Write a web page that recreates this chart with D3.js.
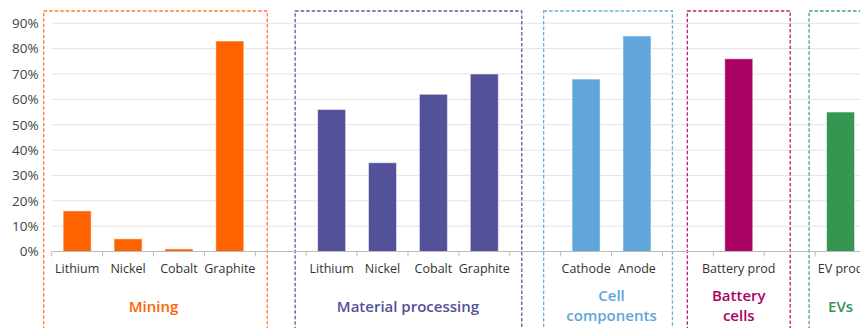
<!DOCTYPE html>
<html>
<head>
<meta charset="utf-8">
<script src="https://cdn.jsdelivr.net/npm/d3@7"></script>
<style>
  body { margin: 0; background: #fff; }
  svg { display: block; font-family: "Open Sans", "Noto Sans", sans-serif; }
</style>
</head>
<body>
<div id="chart"></div>
<script>
// Share of supply chain stage - bar chart with grouped stage boxes

// Data
var categories = ["Lithium", "Nickel", "Cobalt", "Graphite", "",
                  "Lithium", "Nickel", "Cobalt", "Graphite", "",
                  "Cathode", "Anode", "", "Battery prod", "", "EV prod"];
var values = [16, 5, 1, 83, null, 56, 35, 62, 70, null, 68, 85, null, 76, null, 55];
var stageOf = [0, 0, 0, 0, null, 1, 1, 1, 1, null, 2, 2, null, 3, null, 4];
var stageNames = [["Mining"], ["Material processing"], ["Cell", "components"], ["Battery", "cells"], ["EVs"]];
var stageFirst = [0, 5, 10, 13, 15];
var stageLast = [3, 8, 11, 13, 15];
var yTicks = [0, 10, 20, 30, 40, 50, 60, 70, 80, 90];

// Styles
var stageColors = ["#FF6200", "#525199", "#60A6DA", "#AB0066", "#349651"];
var boxColors = ["#FF7A30", "#5A599F", "#6AAEDE", "#B8207A", "#4AA566"];
// box padding (px) left/right of the stage's first/last slot
var boxPad = [[8, 12], [11, 12], [17, 10], [26, 26], [6, 10]];

var svgWidth = 860;
var svgHeight = 328;

var margin = { top: 23.3, left: 51.7, right: -6 };
var axisY = 251.5;
var chartWidth = svgWidth - margin.left - margin.right;

var svg = d3.select("#chart")
  .append("svg")
  .attr("width", svgWidth)
  .attr("height", svgHeight);

var idx = categories.map((d, i) => i);

var xSlot = d3.scaleBand()
  .domain(idx)
  .range([margin.left, margin.left + chartWidth])
  .padding(0);

var xBar = d3.scaleBand()
  .domain(idx)
  .range([margin.left, margin.left + chartWidth])
  .paddingInner(0.45)
  .paddingOuter(0.225);

var yScale = d3.scaleLinear()
  .domain([0, 90])
  .range([axisY, margin.top]);

// gridlines
svg.append("g")
  .selectAll("line")
  .data(yTicks.slice(1))
  .enter()
  .append("line")
  .attr("x1", margin.left)
  .attr("x2", svgWidth)
  .attr("y1", d => yScale(d))
  .attr("y2", d => yScale(d))
  .attr("stroke", "#e4e4e4")
  .attr("stroke-width", 1);

// y axis labels
var yAxis = d3.axisLeft(yScale)
  .tickValues(yTicks)
  .tickSize(0)
  .tickPadding(13)
  .tickFormat(d => d + "%");

var yG = svg.append("g")
  .attr("transform", `translate(${margin.left}, 0)`)
  .call(yAxis);
yG.select(".domain").remove();
yG.selectAll("text")
  .attr("font-size", "13.5px")
  .attr("fill", "#444")
  .attr("font-family", "Open Sans, sans-serif");

// stage boxes
svg.append("g")
  .selectAll("rect")
  .data(stageFirst)
  .enter()
  .append("rect")
  .attr("x", (d, i) => xSlot(d) - boxPad[i][0])
  .attr("y", 11)
  .attr("width", (d, i) => xSlot(stageLast[i]) + xSlot.bandwidth() + boxPad[i][1] - (xSlot(d) - boxPad[i][0]))
  .attr("height", 340)
  .attr("fill", "none")
  .attr("stroke", (d, i) => boxColors[i])
  .attr("stroke-width", 1.3)
  .attr("stroke-dasharray", "3.5,2");

// bars
svg.append("g")
  .selectAll("rect")
  .data(idx.filter(i => values[i] !== null))
  .enter()
  .append("rect")
  .attr("x", i => xBar(i))
  .attr("y", i => yScale(values[i]))
  .attr("width", xBar.bandwidth())
  .attr("height", i => axisY - yScale(values[i]))
  .attr("fill", i => stageColors[stageOf[i]])
  .attr("stroke", "#fff")
  .attr("stroke-opacity", 0.5)
  .attr("stroke-width", 1);

// x axis
var xAxis = d3.axisBottom(xSlot)
  .tickSize(0)
  .tickPadding(13)
  .tickFormat(i => categories[i]);

var xG = svg.append("g")
  .attr("transform", `translate(0, ${axisY})`)
  .call(xAxis);
xG.select(".domain")
  .attr("stroke", "#bbb")
  .attr("d", `M${margin.left},0H${svgWidth}`);
xG.selectAll("text")
  .attr("font-size", "12.5px")
  .attr("fill", "#333")
  .attr("font-family", "Open Sans, sans-serif");

// tick marks at slot boundaries
xG.append("g")
  .selectAll("line")
  .data(idx.concat([idx.length]))
  .enter()
  .append("line")
  .attr("x1", i => margin.left + i * xSlot.step())
  .attr("x2", i => margin.left + i * xSlot.step())
  .attr("y1", 0)
  .attr("y2", 5)
  .attr("stroke", "#bbb");

// stage labels
var labels = svg.append("g")
  .selectAll("text")
  .data(stageNames)
  .enter()
  .append("text")
  .attr("x", (d, i) => (xSlot(stageFirst[i]) + xSlot(stageLast[i]) + xSlot.bandwidth()) / 2)
  .attr("y", d => d.length > 1 ? 301 : 312)
  .attr("text-anchor", "middle")
  .attr("font-size", "15px")
  .attr("font-weight", "600")
  .attr("fill", (d, i) => stageColors[i]);

labels.selectAll("tspan")
  .data(d => d)
  .enter()
  .append("tspan")
  .attr("x", function () { return d3.select(this.parentNode).attr("x"); })
  .attr("dy", (d, j) => j === 0 ? 0 : 20)
  .text(d => d);
</script>
</body>
</html>
